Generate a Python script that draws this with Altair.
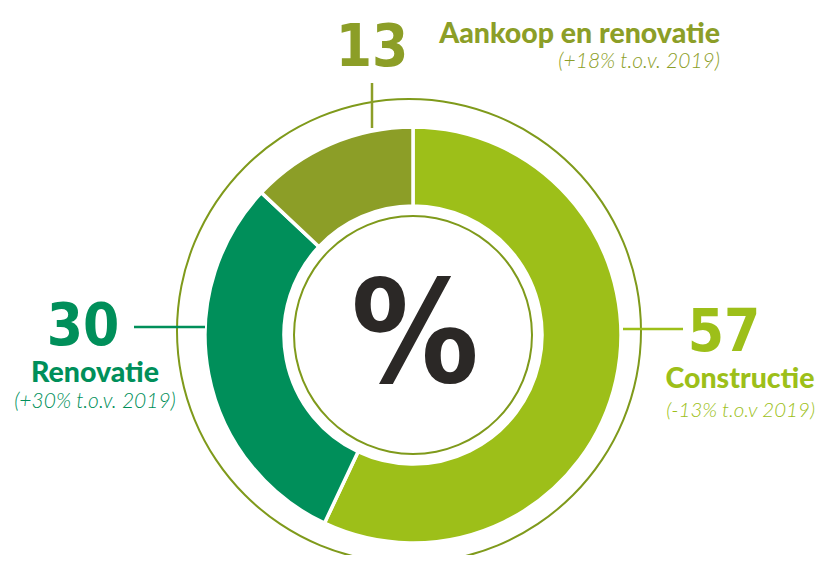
import altair as alt
import pandas as pd

# ---- data ----
categories = ["Constructie", "Renovatie", "Aankoop en renovatie"]
shares = [57, 30, 13]
changes = ["(-13% t.o.v 2019)", "(+30% t.o.v. 2019)", "(+18% t.o.v. 2019)"]
slice_order = [0, 1, 2]
colors = ["#9dbf19", "#008f5a", "#8c9e27"]
center_symbol = "%"

# ---- styling / layout ----
OLIVE_LINE = "#7f9a1b"
DARK = "#2b2826"
NUM_FONT = "Liberation Sans Narrow, DejaVu Sans Condensed, Roboto, sans-serif"
LBL_FONT = "Lato"
W, H = 811, 547
CX, CY = 405, 327          # donut centre
R_OUT, R_IN = 208, 129
RING_CX, RING_CY, RING_R = 401, 323, 232
INNER_RING_R = 119

df = pd.DataFrame({"cat": categories, "share": shares, "change": changes, "ord": slice_order})
one = pd.DataFrame({"k": [0]})

color_scale = alt.Scale(domain=categories, range=colors)

donut = alt.Chart(df).mark_arc(
    outerRadius=R_OUT, innerRadius=R_IN, stroke="white", strokeWidth=3.5
).encode(
    theta=alt.Theta("share:Q", stack=True),
    color=alt.Color("cat:N", scale=color_scale, legend=None),
    order=alt.Order("ord:Q"),
    x=alt.value(CX), y=alt.value(CY),
)

outer_ring = alt.Chart(one).mark_arc(
    innerRadius=RING_R - 1, outerRadius=RING_R + 1, theta=0, theta2=6.2832, color=OLIVE_LINE
).encode(x=alt.value(RING_CX), y=alt.value(RING_CY))

inner_ring = alt.Chart(one).mark_arc(
    innerRadius=INNER_RING_R - 1, outerRadius=INNER_RING_R + 1, theta=0, theta2=6.2832, color=OLIVE_LINE
).encode(x=alt.value(CX), y=alt.value(CY))


def leader(x1, x2, y1, y2, col, w=2.5):
    return alt.Chart(one).mark_rule(color=col, strokeWidth=w).encode(
        x=alt.value(x1), x2=alt.value(x2), y=alt.value(y1), y2=alt.value(y2)
    )


leaders = [
    leader(364, 364, 75, 120, colors[2], 2.5),
    leader(126, 197, 319, 319, colors[1], 2.5),
    leader(615, 675, 321, 321, colors[0], 2.5),
]


def cat_text(cat, field, x, y, col, size, font, weight="normal", style="normal", align="center"):
    return alt.Chart(df).transform_filter(alt.datum.cat == cat).mark_text(
        align=align, baseline="alphabetic", font=font, fontSize=size,
        fontWeight=weight, fontStyle=style, color=col
    ).encode(text=alt.Text(f"{field}:N"), x=alt.value(x), y=alt.value(y))


NUM_SIZE = 58
BOLD_SIZE = 28.5
IT_SIZE = 21
texts = [
    # Aankoop en renovatie
    cat_text(categories[2], "share", 364, 58, colors[2], NUM_SIZE, NUM_FONT, "bold"),
    cat_text(categories[2], "cat", 712, 35, colors[2], BOLD_SIZE, LBL_FONT, 900, align="right"),
    cat_text(categories[2], "change", 712, 60, colors[2], IT_SIZE, LBL_FONT, 300, "italic", align="right"),
    # Renovatie
    cat_text(categories[1], "share", 75, 337, colors[1], NUM_SIZE, NUM_FONT, "bold"),
    cat_text(categories[1], "cat", 87, 374, colors[1], BOLD_SIZE, LBL_FONT, 900),
    cat_text(categories[1], "change", 87, 400, colors[1], IT_SIZE, LBL_FONT, 300, "italic"),
    # Constructie
    cat_text(categories[0], "share", 716, 343, colors[0], NUM_SIZE, NUM_FONT, "bold"),
    cat_text(categories[0], "cat", 732, 380, colors[0], BOLD_SIZE, LBL_FONT, 900),
    cat_text(categories[0], "change", 807, 409, colors[0], 20.5, LBL_FONT, 300, "italic", align="right"),
]

center = alt.Chart(one).mark_text(
    text=center_symbol, align="center", baseline="alphabetic", font=NUM_FONT,
    fontSize=142, fontWeight="bold", color=DARK
).encode(x=alt.value(CX + 2), y=alt.value(374))

chart = alt.layer(
    outer_ring, inner_ring, donut, *leaders, *texts, center
).properties(
    width=W, height=H, padding=0, background="white",
    autosize=alt.AutoSizeParams(type="fit", contains="padding"),
).configure_view(stroke=None)

chart.save("out.html", embed_options={"renderer": "svg", "actions": False})
